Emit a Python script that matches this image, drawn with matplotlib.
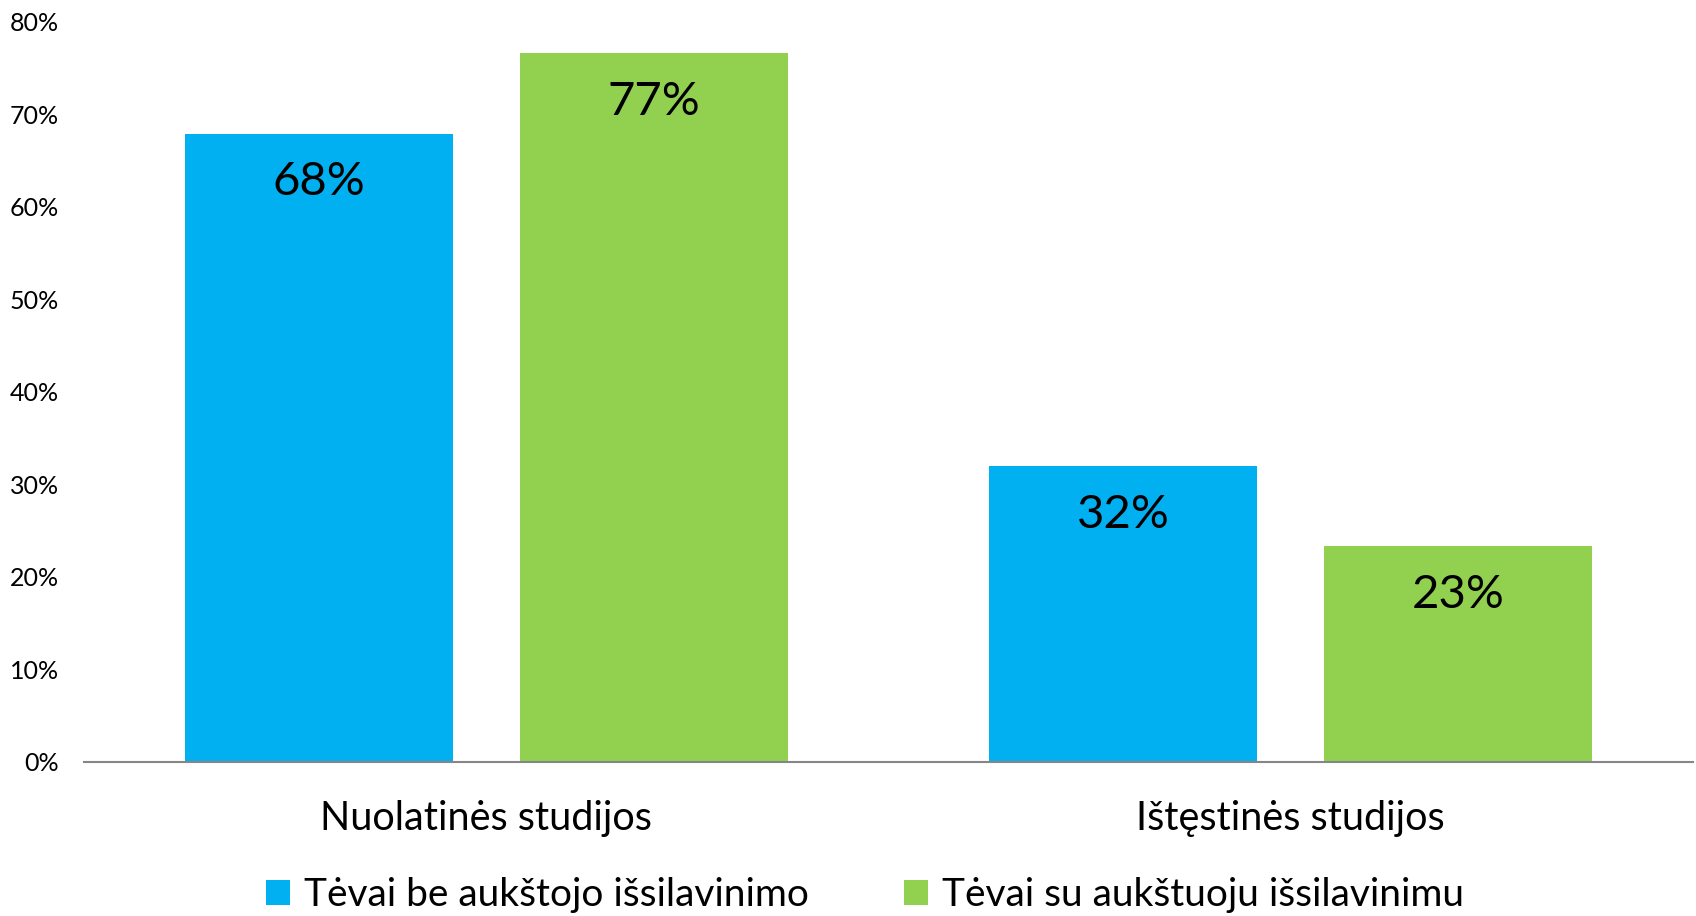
import matplotlib
matplotlib.use("Agg")
import matplotlib.pyplot as plt
import numpy as np
from matplotlib.ticker import FuncFormatter

categories = ["Nuolatinės studijos", "Ištęstinės studijos"]
series_names = ["Tėvai be aukštojo išsilavinimo", "Tėvai su aukštuoju išsilavinimu"]
values_no_higher = [67.9, 31.9]
values_higher = [76.6, 23.3]
yticks = [0, 10, 20, 30, 40, 50, 60, 70, 80]

plt.rcParams['font.family'] = ['Lato', 'DejaVu Sans']

W, H = 1696, 916
fig = plt.figure(figsize=(W / 100, H / 100), dpi=100)
left, right = 84, 1693
top, bottom = 21.6, 761.5
ax = fig.add_axes([left / W, 1 - bottom / H, (right - left) / W, (bottom - top) / H])

x = np.arange(len(categories))
w = 0.333
off = 0.208
colors = ["#00B0F0", "#92D050"]
b1 = ax.bar(x - off, values_no_higher, w, color=colors[0], label=series_names[0])
b2 = ax.bar(x + off, values_higher, w, color=colors[1], label=series_names[1])

for bars, vals in ((b1, values_no_higher), (b2, values_higher)):
    for rect, v in zip(bars, vals):
        ax.annotate(f"{v:.0f}%", (rect.get_x() + rect.get_width() / 2, v),
                    xytext=(0, -35), textcoords="offset points",
                    ha="center", va="center", fontsize=34, color="black")

ax.set_xlim(-0.5, 1.5)
ax.set_ylim(0, 80)
ax.set_yticks(yticks)
ax.yaxis.set_major_formatter(FuncFormatter(lambda v, p: f"{int(v)}%"))
ax.tick_params(axis="y", length=0, labelsize=18, pad=18)
ax.set_xticks(x)
ax.set_xticklabels(categories, fontsize=28.5)
ax.tick_params(axis="x", length=0, pad=28)
for s in ("top", "right", "left"):
    ax.spines[s].set_visible(False)
ax.spines["bottom"].set_color("#868686")
ax.spines["bottom"].set_linewidth(1.5)

fig.legend(handles=[b1, b2], labels=series_names, loc="center",
           bbox_to_anchor=(0.510, 1 - 895 / H), ncol=2, frameon=False,
           fontsize=28, handlelength=0.62, handleheight=0.62,
           handletextpad=0.35, columnspacing=2.45)

fig.savefig("out.png", dpi=100)
